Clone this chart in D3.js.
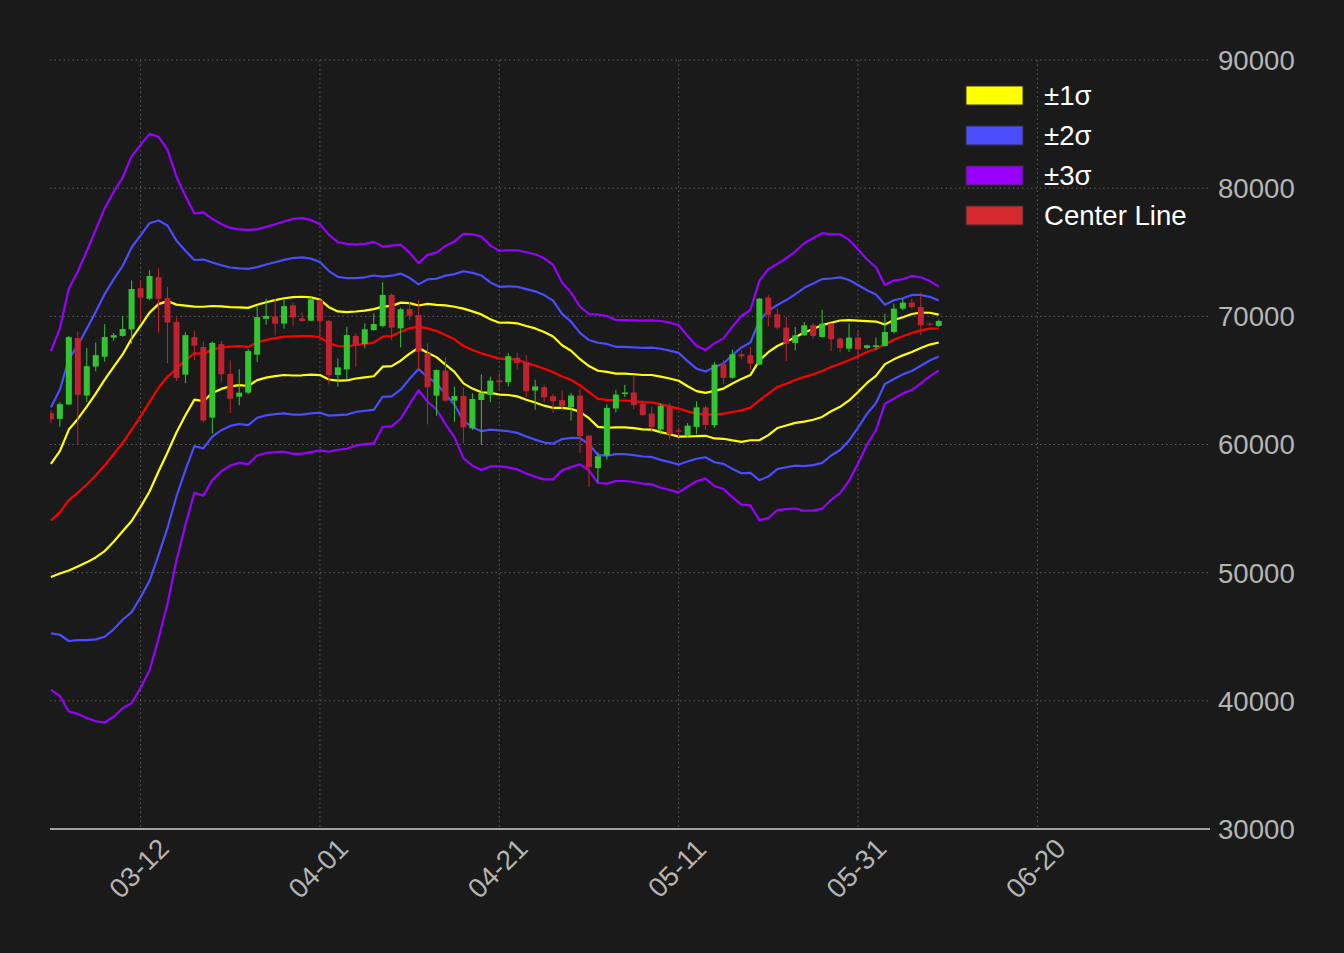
<!DOCTYPE html>
<meta charset="utf-8">
<style>
  html, body { margin: 0; padding: 0; background: #1a1a1a; }
  svg text { font-family: "Liberation Sans", Arial, sans-serif; }
  .grid line { stroke: #5e5e5e; stroke-width: 1; stroke-dasharray: 1.5,3; }
</style>
<body>
<svg id="chart"></svg>
<script src="https://cdnjs.cloudflare.com/ajax/libs/d3/7.8.5/d3.min.js"></script>
<script>
// daily candles, 2024-03-02 .. 2024-06-09
var startDay = new Date(2024, 2, 2);

var open  = [62450,62000,63120,68310,63820,66080,66850,68340,68470,68980,
             72200,71370,73060,71430,69550,65450,68380,67610,62100,67830,
             65510,63730,64040,67010,69810,70000,69430,70860,69840,69660,
             71250,69640,65420,65860,68470,67840,68930,69250,71670,69060,
             70570,70100,67110,63810,65760,63420,63780,61260,63470,63860,
             64990,64860,66760,66420,64210,64470,63770,63460,62910,63820,
             60700,58150,59140,62810,63930,64060,63170,62410,61160,62980,
             61100,60710,61370,62900,61500,66260,65210,67040,66960,66230,
             71460,70160,69120,67920,68520,69300,68390,69430,68260,67480,
             68340,67530,67610,67690,68780,70600,71070,70730,69430,69250];
var high  = [62670,63310,68470,68820,67520,67960,69390,68690,70000,72800,
             72800,73600,73760,72320,69900,68760,68880,68020,68020,68090,
             66560,65860,67450,70800,71370,71340,71310,71070,70310,71540,
             71330,69710,66720,69190,68670,69450,70230,72650,71800,70680,
             71140,71270,67890,65860,66800,64510,64460,63990,65470,65290,
             65590,67150,67150,67000,65050,64660,63950,64210,64030,64340,
             60700,59400,63120,64270,64660,65360,63430,62930,63190,63240,
             61310,61680,63370,63030,66440,66570,67400,67350,67610,71430,
             71640,70600,69950,69170,69560,69480,70520,69480,68390,69430,
             68910,67790,68340,70210,70990,71380,71380,71850,69560,69740];
var low   = [61650,61400,63060,59970,63310,65700,66460,68090,68410,67830,
             69520,71270,68730,66340,64970,64780,66590,61720,60860,64900,
             62450,63060,63920,66430,69360,68500,69040,69270,69560,69640,
             68470,64690,64510,65110,66070,67500,68880,69140,68150,67580,
             69710,65810,61570,62250,63340,61780,60090,61130,59960,63290,
             64160,64530,65830,63690,62710,63300,62470,62780,61870,59350,
             56670,57060,58830,62500,63690,62760,62240,60980,60790,60380,
             60580,60580,60790,61160,61310,64690,65140,66650,65840,66180,
             69220,68960,66520,67350,68470,68260,68340,67300,67220,67220,
             66620,67430,67350,67610,68650,70470,70600,68520,69250,69170];
var close = [61970,63150,68380,63880,66110,66970,68380,68530,69010,72130,
             71460,73150,71370,69520,65190,68530,67710,61880,67930,65480,
             63570,64040,67290,69940,70030,69430,70800,69920,69640,71330,
             69640,65420,66020,68540,67740,68990,69400,71670,69120,70550,
             70050,67240,64460,65810,63420,63780,61340,63550,64040,64980,
             64860,66890,66350,64160,64530,63690,63380,62990,63820,60650,
             58230,59090,62860,63900,64060,63070,62290,61370,63030,60790,
             61000,61470,62900,61520,66230,65210,67040,66880,66310,71380,
             70130,69120,67870,68520,69300,68470,69430,68210,67530,68340,
             67430,67740,67740,68780,70600,71070,70730,69300,69350,69640];

var center = [54074,54711,55667,56240,56877,57578,58374,59234,60126,61145,
              62196,63311,64425,65286,65923,66560,67133,67065,67410,67555,
              67630,67670,67610,67960,68160,68300,68415,68439,68465,68465,
              68361,67893,67685,67660,67763,67841,67945,68413,68465,68804,
              69064,69194,69064,68856,68543,68205,67685,67373,67113,66905,
              66700,66685,66607,66372,66164,65904,65644,65306,65046,64604,
              64084,63563,63485,63433,63433,63381,63303,63290,63133,62977,
              62795,62587,62405,62353,62327,62405,62535,62665,62873,63445,
              63966,64486,64746,65030,65266,65474,65734,66046,66307,66567,
              66879,67217,67477,67815,68179,68439,68700,68908,69038,69050];
var sigma  = [4406,4778,5499,5754,6073,6391,6688,6826,6901,7113,
              7060,6975,6529,5903,4990,4278,3631,3684,3397,3217,
              3090,3036,3047,2941,2941,2962,2994,3055,3064,3020,
              2942,2820,2699,2664,2612,2603,2621,2343,2352,2265,
              1970,1649,1909,2039,2317,2543,2916,3011,3037,2872,
              2801,2824,2850,2876,2893,2876,2789,2442,2268,2051,
              2033,2189,2180,2094,2094,2102,2120,2133,2168,2176,
              2176,1959,1759,1673,1855,1959,2219,2454,2541,3114,
              3235,3201,3262,3341,3479,3540,3584,3453,3366,3132,
              2785,2412,2117,1544,1536,1484,1484,1380,1241,1089];

var yTicks = [30000,40000,50000,60000,70000,80000,90000];
var xTickLabels = ["03-12","04-01","04-21","05-11","05-31","06-20"];

var bands = [
  {k: 1, color: "#ffff00"},
  {k: 2, color: "#4b4bff"},
  {k: 3, color: "#9900ff"}
];
var legendItems = [
  {label: "\u00b11\u03c3", color: "#ffff00"},
  {label: "\u00b12\u03c3", color: "#4b4bff"},
  {label: "\u00b13\u03c3", color: "#9900ff"},
  {label: "Center Line", color: "#d3292f"}
];

var width = 1344, height = 953;
var plot = {left: 50, right: 1210, top: 60, bottom: 829};

var svg = d3.select("#chart").attr("width", width).attr("height", height);
svg.append("rect").attr("width", width).attr("height", height).attr("fill", "#1a1a1a");

var dayMs = 864e5;
var dates = open.map(function(d, i) { return d3.timeDay.offset(startDay, i); });

var x = d3.scaleTime()
  .domain([new Date(startDay.getTime() - 0.1 * dayMs), new Date(startDay.getTime() + 129.25 * dayMs)])
  .range([plot.left, plot.right]);
var y = d3.scaleLinear().domain([30000, 90000]).range([plot.bottom, plot.top]);

var fmt = d3.timeFormat("%m-%d");
var tickDates = xTickLabels.map(function(s) {
  var p = s.split("-");
  return new Date(2024, +p[0] - 1, +p[1]);
});

svg.append("defs").append("clipPath").attr("id", "clip")
  .append("rect").attr("x", plot.left).attr("y", plot.top)
  .attr("width", plot.right - plot.left).attr("height", plot.bottom - plot.top);

// grid
var grid = svg.append("g").attr("class", "grid");
grid.selectAll(".h").data(yTicks.filter(function(v) { return v > 30000; })).enter()
  .append("line").attr("class", "h")
  .attr("x1", plot.left).attr("x2", plot.right)
  .attr("y1", function(d) { return y(d); }).attr("y2", function(d) { return y(d); });
grid.selectAll(".v").data(tickDates).enter()
  .append("line").attr("class", "v")
  .attr("x1", function(d) { return x(d); }).attr("x2", function(d) { return x(d); })
  .attr("y1", plot.top).attr("y2", plot.bottom);

var g = svg.append("g").attr("clip-path", "url(#clip)");

// bands
bands.forEach(function(b) {
  [1, -1].forEach(function(sgn) {
    var line = d3.line()
      .x(function(d, i) { return x(dates[i]); })
      .y(function(d, i) { return y(center[i] + sgn * b.k * sigma[i]); });
    g.append("path").datum(center).attr("d", line)
      .attr("fill", "none").attr("stroke", b.color).attr("stroke-width", 2.2)
      .attr("stroke-linejoin", "round");
  });
});
g.append("path").datum(center)
  .attr("d", d3.line().x(function(d, i) { return x(dates[i]); }).y(function(d) { return y(d); }))
  .attr("fill", "none").attr("stroke", "#ff0000").attr("stroke-width", 2.2)
  .attr("stroke-linejoin", "round");

// candles
var upColor = "#33c433", downColor = "#c0232f";
var candles = g.selectAll(".candle").data(open).enter().append("g").attr("class", "candle");
candles.append("line")
  .attr("x1", function(d, i) { return x(dates[i]); })
  .attr("x2", function(d, i) { return x(dates[i]); })
  .attr("y1", function(d, i) { return y(high[i]); })
  .attr("y2", function(d, i) { return y(low[i]); })
  .attr("stroke", function(d, i) { return close[i] >= open[i] ? upColor : downColor; })
  .attr("stroke-width", 1);
candles.append("rect")
  .attr("x", function(d, i) { return x(dates[i]) - 3; })
  .attr("width", 6)
  .attr("y", function(d, i) { return y(Math.max(open[i], close[i])); })
  .attr("height", function(d, i) { return Math.max(1, Math.abs(y(open[i]) - y(close[i]))); })
  .attr("fill", function(d, i) { return close[i] >= open[i] ? upColor : downColor; });

// bottom spine
svg.append("line").attr("x1", plot.left).attr("x2", plot.right)
  .attr("y1", plot.bottom).attr("y2", plot.bottom)
  .attr("stroke", "#cfcfcf").attr("stroke-width", 1.5);

// right axis labels
svg.selectAll(".ylab").data(yTicks).enter().append("text")
  .attr("class", "ylab")
  .attr("x", 1218).attr("y", function(d) { return y(d); })
  .attr("dy", "0.36em")
  .attr("fill", "#b4b4b4").attr("font-size", 27.6)
  .text(function(d) { return d; });

// x labels, rotated
svg.selectAll(".xlab").data(tickDates).enter().append("text")
  .attr("class", "xlab")
  .attr("transform", function(d) { return "translate(" + (x(d) - 2) + ",868) rotate(-45)"; })
  .attr("text-anchor", "middle").attr("dy", "0.36em")
  .attr("fill", "#b4b4b4").attr("font-size", 27.6)
  .text(function(d) { return fmt(d); });

// legend
var legend = svg.append("g").attr("transform", "translate(966,86)");
var li = legend.selectAll(".li").data(legendItems).enter().append("g")
  .attr("transform", function(d, i) { return "translate(0," + (i * 40) + ")"; });
li.append("rect").attr("width", 57).attr("height", 19)
  .attr("fill", function(d) { return d.color; })
  .attr("stroke", "#333").attr("stroke-width", 1);
li.append("text").attr("x", 78).attr("y", 9).attr("dy", "0.36em")
  .attr("fill", "#ffffff").attr("font-size", 27.6)
  .text(function(d) { return d.label; });
</script>
</body>
